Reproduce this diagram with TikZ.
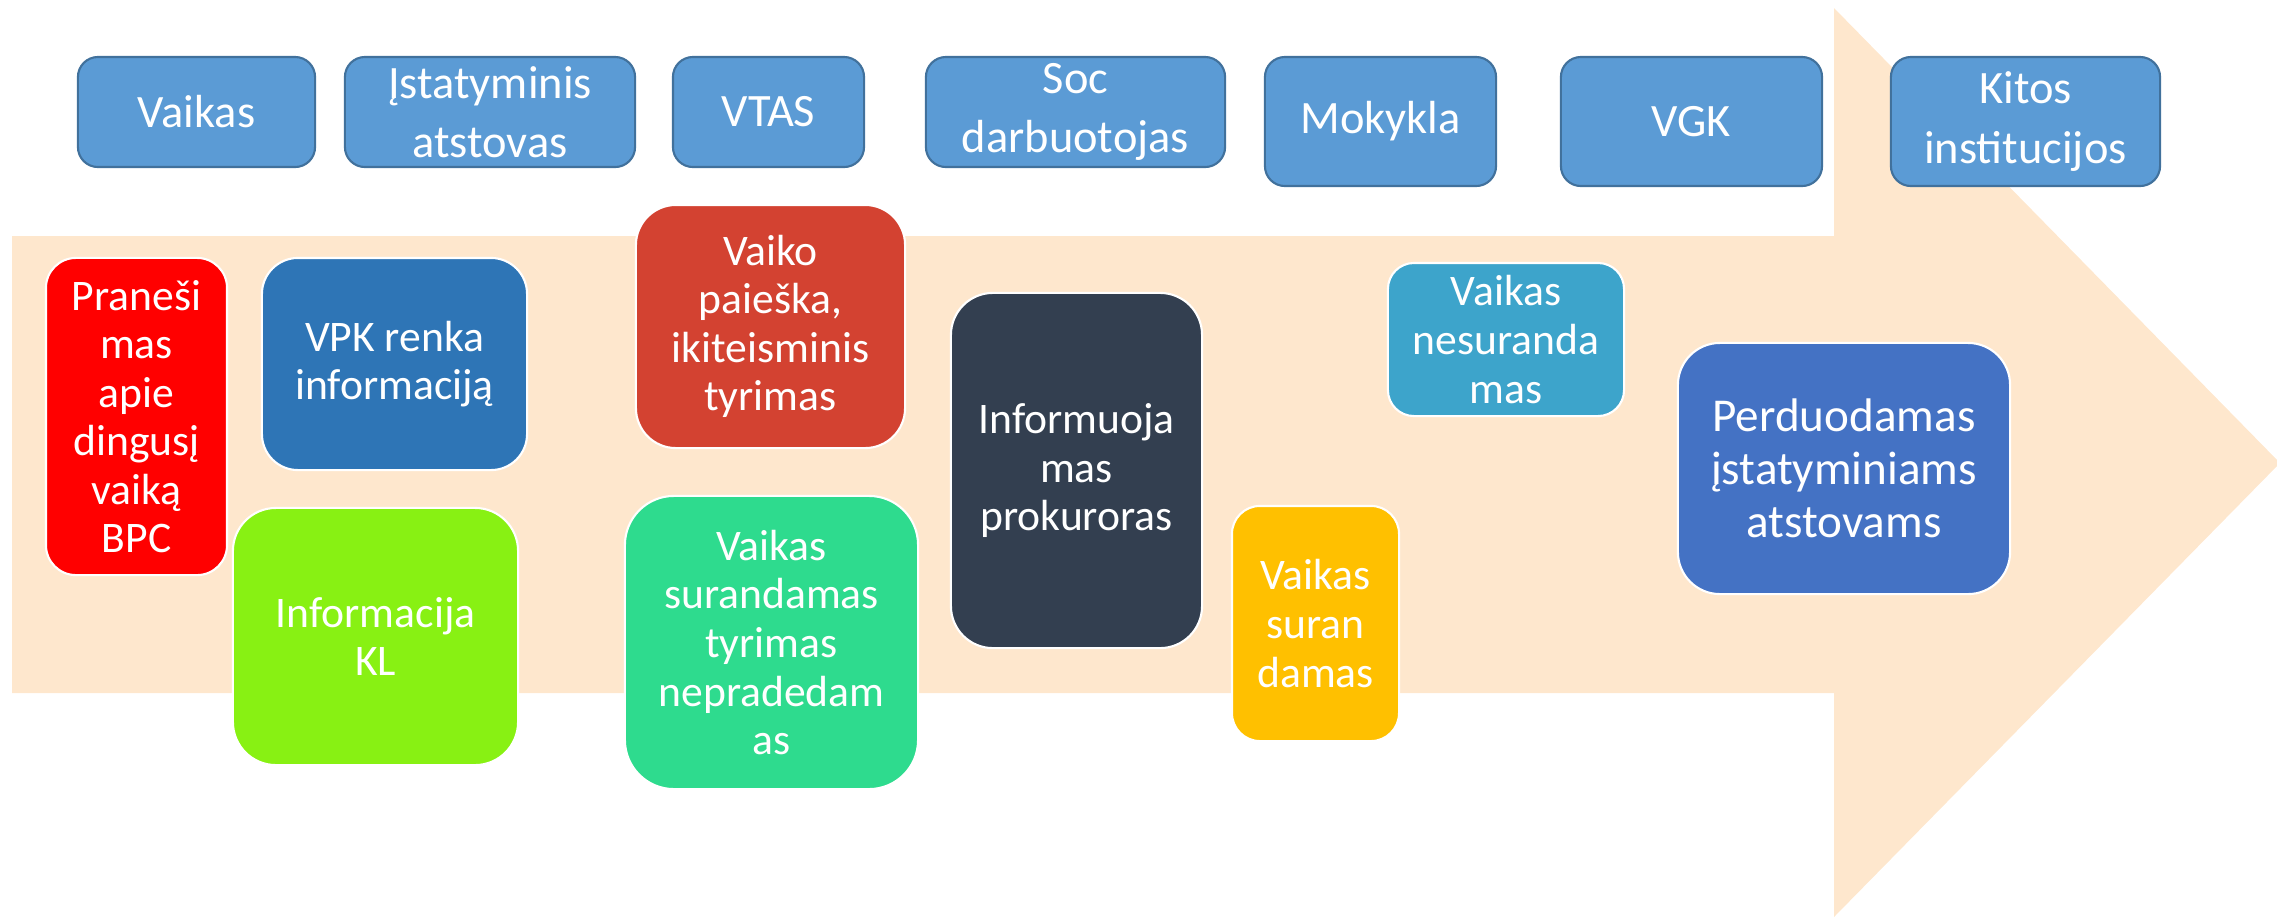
\documentclass[tikz,border=0pt]{standalone}
\usepackage{fontspec}
\setmainfont{Carlito}
\usepackage{tikz}
\usetikzlibrary{positioning}

\definecolor{arrowbg}{HTML}{FEE7CD}
\definecolor{actorfill}{HTML}{5B9BD5}
\definecolor{actorline}{HTML}{41719C}
\definecolor{cred}{HTML}{FF0000}
\definecolor{cvpk}{HTML}{2E75B6}
\definecolor{cpaieska}{HTML}{D34231}
\definecolor{cdark}{HTML}{333F50}
\definecolor{clime}{HTML}{88F113}
\definecolor{cmint}{HTML}{2EDB8E}
\definecolor{cyellow}{HTML}{FFC000}
\definecolor{cteal}{HTML}{3DA4CB}
\definecolor{cblue}{HTML}{4472C4}

\begin{document}
\begin{tikzpicture}[x=0.01cm, y=-0.01cm]
				\tikzstyle{actor} = [rectangle, draw=actorline, line width=0.6pt, fill=actorfill, text=white, align=center, inner sep=0pt, rounded corners=0.2cm, font=\fontsize{13.2pt}{16.8pt}\selectfont]
				\tikzstyle{stage} = [rectangle, draw=white, line width=0.6pt, text=white, align=center, inner sep=0pt, font=\fontsize{12.4pt}{13.8pt}\selectfont]
				
				\useasboundingbox (0,0) rectangle (2277,917);
				
				% big arrow in the background
				\fill [arrowbg] (12,236) -- (1834,236) -- (1834,8) -- (2280,463) -- (1834,917) -- (1834,693) -- (12,693) -- cycle;
				
				% who takes part
				\node [actor, minimum width=2.37cm, minimum height=1.10cm] (vaikas) at (196.5,112) {Vaikas};
				\node [actor, minimum width=2.90cm, minimum height=1.10cm] (atstovas) at (490,112) {Įstatyminis\\atstovas};
				\node [actor, minimum width=1.91cm, minimum height=1.10cm] (vtas) at (768.5,112) {VTAS};
				\node [actor, minimum width=2.99cm, minimum height=1.10cm] (soc) at (1075.5,112) {Soc\\darbuotojas};
				\node [actor, minimum width=2.31cm, minimum height=1.29cm] (mokykla) at (1380.5,121.5) {Mokykla};
				\node [actor, minimum width=2.61cm, minimum height=1.29cm] (vgk) at (1691.5,121.5) {VGK};
				\node [actor, minimum width=2.69cm, minimum height=1.29cm] (kitos) at (2025.5,121.5) {Kitos\\institucijos};
				
				% steps of the search
				\node [stage, fill=cred, minimum width=1.81cm, minimum height=3.17cm, rounded corners=0.3cm] (pranesimas) at (136.5,416.5) {Praneši\\mas\\apie\\dingusį\\vaiką\\BPC};
				\node [stage, fill=cvpk, minimum width=2.65cm, minimum height=2.12cm, rounded corners=0.36cm] (vpk) at (394.5,364) {VPK renka\\informaciją};
				\node [stage, fill=clime, minimum width=2.85cm, minimum height=2.57cm, rounded corners=0.43cm] (infokl) at (375.5,636.5) {Informacija\\KL};
				\node [stage, fill=cpaieska, minimum width=2.69cm, minimum height=2.43cm, rounded corners=0.4cm] (paieska) at (770.5,326.5) {Vaiko\\paieška,\\ikiteisminis\\tyrimas};
				\node [stage, fill=cmint, minimum width=2.93cm, minimum height=2.93cm, rounded corners=0.49cm] (surandamas) at (771.5,642.5) {Vaikas\\surandamas\\tyrimas\\nepradedam\\as};
				\node [stage, fill=cdark, minimum width=2.51cm, minimum height=3.55cm, rounded corners=0.42cm] (prokuroras) at (1076.5,470.5) {Informuoja\\mas\\prokuroras};
				\node [stage, fill=cyellow, minimum width=1.67cm, minimum height=2.35cm, rounded corners=0.28cm] (suran) at (1315.5,623.5) {Vaikas\\suran\\damas};
				\node [stage, fill=cteal, minimum width=2.36cm, minimum height=1.53cm, rounded corners=0.26cm] (nesurandamas) at (1506,339.5) {Vaikas\\nesuranda\\mas};
				\node [stage, fill=cblue, minimum width=3.32cm, minimum height=2.51cm, rounded corners=0.42cm, font=\fontsize{13.4pt}{15pt}\selectfont] (perduodamas) at (1844,468.5) {Perduodamas\\įstatyminiams\\atstovams};
			\end{tikzpicture}
\end{document}
